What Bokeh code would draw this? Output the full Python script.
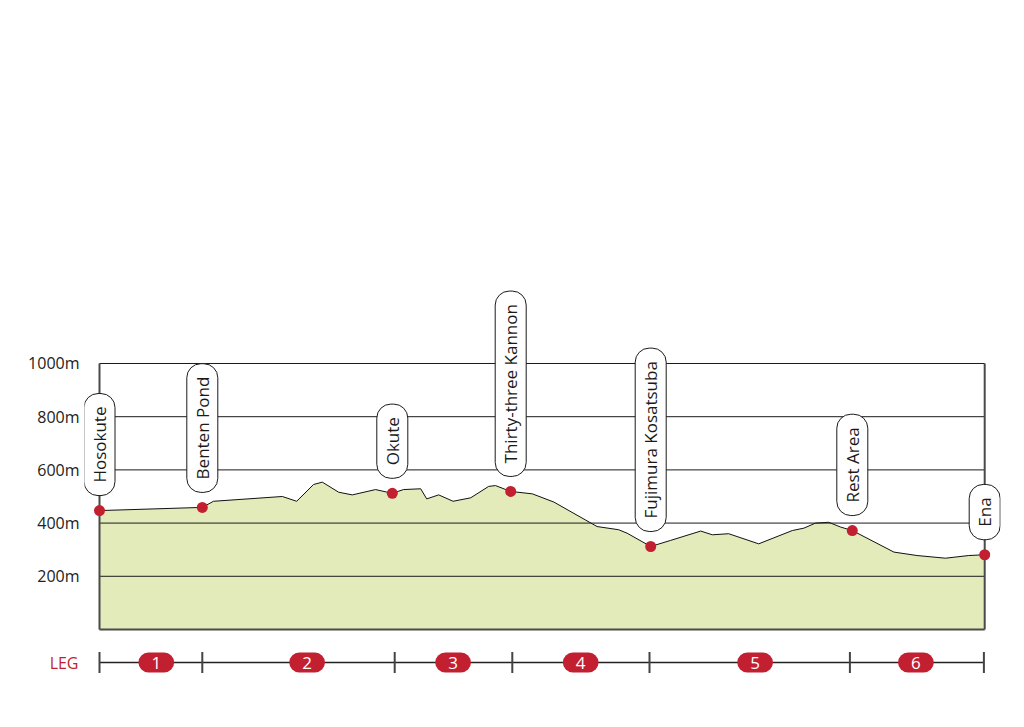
import math
from bokeh.plotting import figure
from bokeh.layouts import column
from bokeh.models import Range1d, FixedTicker
from bokeh.core.properties import value
from bokeh.embed import file_html
from bokeh.resources import INLINE

# ---- data ----
dist_km = [0.0, 2.57, 2.85, 4.57, 4.93, 5.35, 5.57, 5.98, 6.32, 6.90, 7.32, 7.60, 8.03,
           8.18, 8.48, 8.84, 9.28, 9.73, 9.90, 10.28, 10.82, 11.36, 12.44, 12.98, 13.19,
           13.78, 14.28, 15.03, 15.32, 15.73, 16.48, 17.32, 17.61, 17.90, 18.23, 18.53,
           18.82, 19.86, 20.44, 21.15, 21.73, 22.13]
elev_m = [447, 459, 482, 500, 482, 545, 554, 516, 506, 526, 512, 526, 529,
          491, 506, 482, 495, 538, 541, 519, 510, 479, 387, 375, 362,
          312, 335, 370, 356, 360, 322, 372, 381, 400, 403, 385,
          372, 291, 278, 268, 278, 281]

stop_names = ["Hosokute", "Benten Pond", "Okute", "Thirty-three Kannon",
              "Fujimura Kosatsuba", "Rest Area", "Ena"]
stop_km = [0.0, 2.57, 7.32, 10.28, 13.78, 18.82, 22.13]
stop_elev = [447, 459, 512, 519, 312, 372, 281]

elev_ticks = [200, 400, 600, 800, 1000]
elev_tick_labels = ["200m", "400m", "600m", "800m", "1000m"]

leg_bounds_km = [0.0, 2.57, 7.38, 10.32, 13.75, 18.76, 22.11]
leg_label_km = [1.42, 5.19, 8.84, 12.03, 16.39, 20.41]
leg_labels = ["1", "2", "3", "4", "5", "6"]

RED = "#c21f30"
FONT = value("Open Sans")

xr = Range1d(-0.375, 22.525)

# ---- main profile figure ----
p = figure(width=1008, height=640, x_range=xr, y_range=Range1d(-41.4, 2364.7),
           output_backend="svg", toolbar_location=None, x_axis_location=None,
           min_border_left=84, min_border_right=8, min_border_top=0, min_border_bottom=0)
p.outline_line_color = None
p.grid.visible = False
p.title.visible = False

ya = p.yaxis[0]
ya.ticker = FixedTicker(ticks=elev_ticks)
ya.major_label_overrides = {t: l for t, l in zip(elev_ticks, elev_tick_labels)}
ya.axis_line_color = None
ya.major_tick_line_color = None
ya.major_tick_out = 0
ya.major_tick_in = 0
ya.minor_tick_line_color = None
ya.major_label_text_font = "Open Sans"
ya.major_label_text_font_size = "16px"
ya.major_label_text_color = "#222222"
ya.major_label_standoff = 5

x0, x1 = dist_km[0], dist_km[-1]
p.varea(x=dist_km, y1=[0] * len(dist_km), y2=elev_m, fill_color="#e3ebbb")
p.line(dist_km, elev_m, line_color="#111111", line_width=1)

# grid lines over the area
p.segment(x0=[x0] * len(elev_ticks), y0=elev_ticks, x1=[x1] * len(elev_ticks), y1=elev_ticks,
          line_color="#1a1a1a", line_width=1)
# box
p.segment(x0=[x0, x1, x0], y0=[0, 0, 0], x1=[x0, x1, x1], y1=[elev_ticks[-1], elev_ticks[-1], 0],
          line_color="#4a4a4a", line_width=2)

p.scatter(stop_km, stop_elev, size=11, fill_color=RED, line_color=None)

p.text(x=stop_km, y=stop_elev, text=stop_names, angle=math.pi / 2,
       text_align="left", text_baseline="middle", y_offset=-15,
       text_font=FONT, text_font_size="17px", text_color="#1a1a1a",
       background_fill_color="white", border_line_color="#1a1a1a", border_line_width=1,
       border_radius=14, padding=dict(left=13, right=13, top=4, bottom=4))

# ---- leg row ----
p2 = figure(width=1008, height=60, x_range=xr, y_range=Range1d(-38, 22),
            output_backend="svg", toolbar_location=None, x_axis_location=None,
            min_border_left=84, min_border_right=8, min_border_top=0, min_border_bottom=0)
p2.outline_line_color = None
p2.grid.visible = False
p2.title.visible = False
ya2 = p2.yaxis[0]
ya2.ticker = FixedTicker(ticks=[0])
ya2.major_label_overrides = {0: "LEG"}
ya2.axis_line_color = None
ya2.major_tick_line_color = None
ya2.major_tick_out = 0
ya2.major_tick_in = 0
ya2.minor_tick_line_color = None
ya2.major_label_text_font = "Open Sans"
ya2.major_label_text_font_size = "16px"
ya2.major_label_text_color = RED
ya2.major_label_standoff = 6

p2.line(leg_bounds_km, [0] * len(leg_bounds_km), line_color="#222222", line_width=1.5)
p2.scatter(leg_bounds_km, [0] * len(leg_bounds_km), marker="dash", angle=math.pi / 2,
           size=21, line_color="#444444", line_width=2)
p2.text(x=leg_label_km, y=[0] * len(leg_label_km), text=leg_labels,
        text_align="center", text_baseline="middle",
        text_font=FONT, text_font_size="17px", text_color="white",
        background_fill_color=RED, border_line_color=None, border_radius=11,
        padding=dict(left=13, right=13, top=4, bottom=4))

layout = column(p, p2, spacing=0)
open("out.html", "w").write(file_html(layout, INLINE))
